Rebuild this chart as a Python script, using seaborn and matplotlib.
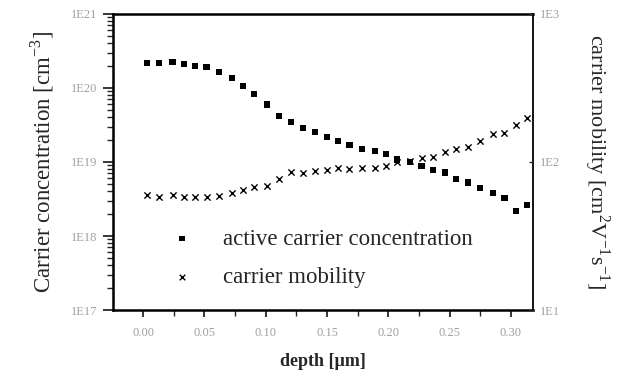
import matplotlib
matplotlib.use('Agg')
import matplotlib.pyplot as plt
import matplotlib.ticker as mticker
import numpy as np
import seaborn as sns

sns.set_style('ticks')
plt.rcParams['font.family'] = ['Liberation Serif', 'DejaVu Serif']
plt.rcParams['mathtext.fontset'] = 'custom'
plt.rcParams['mathtext.rm'] = 'Liberation Serif'

# Data
depth = [0.0033, 0.0131, 0.0240, 0.0333, 0.0425, 0.0518, 0.0616, 0.0722, 0.0817,
         0.0907, 0.1008, 0.1111, 0.1204, 0.1302, 0.1405, 0.1498, 0.1591, 0.1683,
         0.1787, 0.1891, 0.1983, 0.2073, 0.2179, 0.2271, 0.2364, 0.2465, 0.2555,
         0.2650, 0.2745, 0.2855, 0.2947, 0.3039, 0.3132]
concentration = [2.20e20, 2.20e20, 2.27e20, 2.11e20, 2.00e20, 1.90e20, 1.64e20, 1.36e20,
                 1.06e20, 8.2e19, 6.0e19, 4.2e19, 3.5e19, 2.85e19, 2.52e19, 2.2e19,
                 1.94e19, 1.71e19, 1.49e19, 1.40e19, 1.28e19, 1.08e19, 1.01e19, 8.9e18,
                 7.8e18, 7.2e18, 5.9e18, 5.3e18, 4.5e18, 3.8e18, 3.3e18, 2.2e18, 2.6e18]
mobility = [59.8, 58.3, 59.8, 57.7, 57.7, 58.3, 58.9, 62.1, 64.7, 68.1, 68.8, 76.8,
            86.0, 84.7, 86.9, 88.3, 91.5, 89.7, 91.5, 91.5, 94.4, 100.5, 102.0, 105.9,
            107.6, 117.5, 122.5, 126.9, 139.2, 154.5, 156.3, 177.8, 197.0]

label_conc = 'active carrier concentration'
label_mob = 'carrier mobility'

fig = plt.figure(figsize=(6.19, 3.76), dpi=100)
ax = fig.add_axes([0.1826, 0.1755, 0.6785, 0.7873])
ax2 = ax.twinx()

sns.scatterplot(x=depth, y=concentration, marker='s', color='black', s=20,
                edgecolor='none', ax=ax, label=label_conc, legend=False)
sns.scatterplot(x=depth, y=mobility, marker='x', color='black', s=20,
                linewidth=1.0, ax=ax2, label=label_mob, legend=False)

ax.set_yscale('log')
ax2.set_yscale('log')
ax.set_ylim(1e17, 1e21)
ax2.set_ylim(10, 1000)
ax.set_xlim(-0.0245, 0.318)

fmt = mticker.FuncFormatter(lambda v, p: '1E%d' % int(round(np.log10(v))))
ax.yaxis.set_major_locator(mticker.LogLocator(base=10, numticks=10))
ax.yaxis.set_minor_locator(mticker.LogLocator(base=10, subs=np.arange(2, 10), numticks=20))
ax.yaxis.set_major_formatter(fmt)
ax.yaxis.set_minor_formatter(mticker.NullFormatter())
ax2.yaxis.set_major_locator(mticker.LogLocator(base=10, numticks=10))
ax2.yaxis.set_minor_locator(mticker.NullLocator())
ax2.yaxis.set_major_formatter(fmt)

ax.xaxis.set_major_locator(mticker.MultipleLocator(0.05))
ax.xaxis.set_minor_locator(mticker.MultipleLocator(0.025))
ax.xaxis.set_major_formatter(mticker.FormatStrFormatter('%.2f'))

grey = '#a0a0a0'
ax.tick_params(axis='y', which='major', direction='out', length=7, width=1.3,
               labelsize=9, labelcolor=grey, pad=4)
ax.tick_params(axis='y', which='minor', direction='out', length=4, width=1.0)
ax.tick_params(axis='x', which='major', direction='out', length=5, width=1.3,
               labelsize=9, labelcolor=grey, pad=7)
ax.tick_params(axis='x', which='minor', direction='out', length=4, width=1.0)
ax2.tick_params(axis='y', which='major', direction='in', length=3, width=1.0,
                labelsize=9, labelcolor=grey, pad=5)

for sp in ax.spines.values():
    sp.set_linewidth(1.8)
    sp.set_color('black')
ax.spines['right'].set_linewidth(1.3)
for sp in ax2.spines.values():
    sp.set_visible(False)

ax.set_ylabel('Carrier concentration [cm$^{-3}$]', fontsize=16.5, labelpad=11)
ax2.set_ylabel('carrier mobility [cm$^{2}$V$^{-1}$s$^{-1}$]', fontsize=16,
               rotation=270, labelpad=37)
ax.set_xlabel('depth [\u00b5m]', fontsize=13, fontweight='bold', labelpad=10)

h1, l1 = ax.get_legend_handles_labels()
h2, l2 = ax2.get_legend_handles_labels()
ax2.legend(h1 + h2, l1 + l2, loc='upper left', bbox_to_anchor=(0.072, 0.345),
           frameon=False, fontsize=16.5, handletextpad=1.0, labelspacing=0.75,
           markerscale=0.9, handlelength=1.6)

fig.savefig('out.png', dpi=100)
